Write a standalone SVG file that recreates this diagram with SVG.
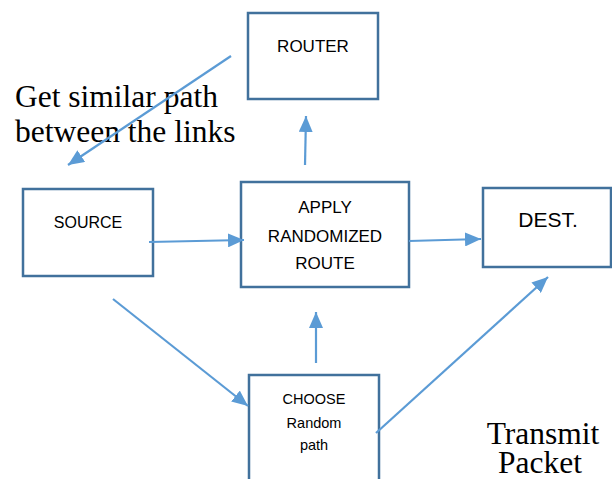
<svg xmlns="http://www.w3.org/2000/svg" width="612" height="479" viewBox="0 0 612 479">
<style>
.box{fill:#fff;stroke:#41719C;stroke-width:2.5}
.lbl{font-family:"Liberation Sans",Arial,sans-serif;fill:#000;text-anchor:middle}
.note{font-family:"Liberation Serif","Times New Roman",serif;font-size:31.5px;fill:#000}
.con{stroke:#5B9BD5;stroke-width:2.2;fill:none;marker-end:url(#ah)}
</style>
<defs>
<marker id="ah" markerUnits="userSpaceOnUse" markerWidth="16" markerHeight="14" viewBox="0 0 16 14" refX="16" refY="7" orient="auto">
<path d="M0,0 L16,7 L0,14 Z" fill="#5B9BD5"/>
</marker>
</defs>
<rect width="612" height="479" fill="#fff"/>
<g id="router">
<rect class="box" x="248" y="13" width="130" height="86"/>
<text class="lbl" x="313" y="52" font-size="17">ROUTER</text>
</g>
<g id="source">
<rect class="box" x="23" y="189" width="130" height="87"/>
<text class="lbl" x="88" y="228" font-size="16">SOURCE</text>
</g>
<g id="apply">
<rect class="box" x="241" y="182" width="168" height="105"/>
<text class="lbl" x="325" y="213" font-size="17">APPLY</text>
<text class="lbl" x="325" y="242" font-size="17">RANDOMIZED</text>
<text class="lbl" x="325" y="269" font-size="17">ROUTE</text>
</g>
<g id="dest">
<rect class="box" x="483" y="188" width="128" height="79"/>
<text class="lbl" x="548" y="227" font-size="21">DEST.</text>
</g>
<g id="choose">
<rect class="box" x="249" y="375" width="130" height="110"/>
<text class="lbl" x="314" y="404" font-size="14.5">CHOOSE</text>
<text class="lbl" x="314" y="428" font-size="14.5">Random</text>
<text class="lbl" x="314" y="450" font-size="14.5">path</text>
</g>
<g id="notes">
<text class="note" x="15" y="107">Get similar path</text>
<text class="note" x="15" y="142">between the links</text>
<text class="note" x="543" y="444" text-anchor="middle">Transmit</text>
<text class="note" x="540" y="473" text-anchor="middle">Packet</text>
</g>
<g id="connectors">
<line class="con" x1="231" y1="56" x2="68" y2="165"/>
<line class="con" x1="149" y1="242" x2="244" y2="240"/>
<line class="con" x1="409" y1="241" x2="481" y2="239"/>
<line class="con" x1="305" y1="165" x2="306" y2="116"/>
<line class="con" x1="316" y1="363" x2="316" y2="312"/>
<line class="con" x1="113" y1="299" x2="248" y2="406"/>
<line class="con" x1="376" y1="433" x2="548" y2="277"/>
</g>
</svg>
